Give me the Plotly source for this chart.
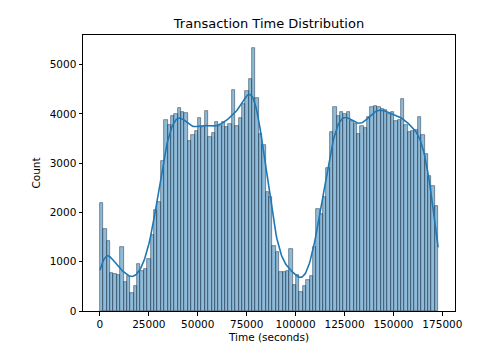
import numpy as np
import plotly.graph_objects as go

# Histogram of transaction time (100 bins over data range)
time_min = 0
time_max = 172792
n_bins = 100
counts = [
    2200, 1660, 1430, 770, 760, 735, 1300, 580, 720, 370,
    510, 960, 820, 850, 1050, 1545, 2060, 2215, 3040, 3870,
    3785, 3955, 3990, 4120, 4035, 4010, 3450, 3580, 3650, 3920,
    3730, 4060, 3540, 3620, 3830, 3760, 3830, 3740, 3800, 4490,
    3760, 3920, 4200, 4470, 4720, 5336, 4320, 3600, 3380, 2420,
    2320, 1310, 1200, 800, 800, 815, 1255, 530, 730, 380,
    510, 630, 715, 1290, 2070, 1970, 2310, 2900, 3640, 4140,
    3950, 4050, 3990, 4050, 3860, 3800, 3600, 3750, 3720, 3930,
    4140, 4170, 4140, 4100, 4080, 4000, 4030, 3850, 3880, 4310,
    3770, 3630, 3660, 3680, 3930, 3580, 3180, 2750, 2540, 2130,
]
x_ticks = [0, 25000, 50000, 75000, 100000, 125000, 150000, 175000]
y_ticks = [0, 1000, 2000, 3000, 4000, 5000]

counts_arr = np.array(counts, dtype=float)
edges = np.linspace(time_min, time_max, n_bins + 1)
bw_bin = edges[1] - edges[0]
centers = (edges[:-1] + edges[1:]) / 2

# KDE (Gaussian, Scott bandwidth) estimated from the binned counts
n_total = counts_arr.sum()
mean = np.sum(counts_arr * centers) / n_total
std = np.sqrt(np.sum(counts_arr * (centers - mean) ** 2) / n_total)
bw = std * n_total ** (-1 / 5)
grid = np.linspace(time_min, time_max, 400)
dens = np.zeros_like(grid)
for c, w in zip(centers, counts_arr):
    dens += w * np.exp(-0.5 * ((grid - c) / bw) ** 2)
dens = dens / (n_total * bw * np.sqrt(2 * np.pi))
kde_counts = dens * n_total * bw_bin

fig = go.Figure()
fig.add_trace(go.Bar(
    x=centers, y=counts_arr, width=bw_bin,
    marker=dict(color="rgba(31,119,180,0.5)",
                line=dict(color="rgba(35,55,75,0.75)", width=0.7)),
    showlegend=False, hoverinfo="x+y",
))
fig.add_trace(go.Scatter(
    x=grid, y=kde_counts, mode="lines",
    line=dict(color="#1f77b4", width=1.6),
    showlegend=False,
))

font = "DejaVu Sans"
fig.update_layout(
    width=496, height=361,
    margin=dict(l=83, r=41, t=35, b=50),
    paper_bgcolor="white", plot_bgcolor="white",
    bargap=0,
    font=dict(family=font, size=10.5, color="black"),
    title=dict(text="Transaction Time Distribution", x=0.5, xanchor="center",
               xref="paper", y=1 - 23 / 361, yanchor="middle",
               font=dict(family=font, size=13, color="black")),
)
fig.update_xaxes(
    range=[-8640, 181432], tickvals=x_ticks, tickformat="d",
    automargin=False,
    showgrid=False, zeroline=False, showline=True, linecolor="black",
    linewidth=1, mirror=True, ticks="outside", ticklen=3.5, tickwidth=0.8,
    tickcolor="black",
    title=dict(text="Time (seconds)", font=dict(family=font, size=10.5), standoff=4),
)
fig.update_yaxes(
    range=[0, 5603], tickvals=y_ticks, tickformat="d",
    automargin=False,
    showgrid=False, zeroline=False, showline=True, linecolor="black",
    linewidth=1, mirror=True, ticks="outside", ticklen=3.5, tickwidth=0.8,
    tickcolor="black",
    title=dict(text="Count", font=dict(family=font, size=10.5), standoff=6),
)

fig.write_html("out.html",
               config={"displayModeBar": False},
               post_script="document.body.style.margin='0';document.body.style.overflow='hidden';")
